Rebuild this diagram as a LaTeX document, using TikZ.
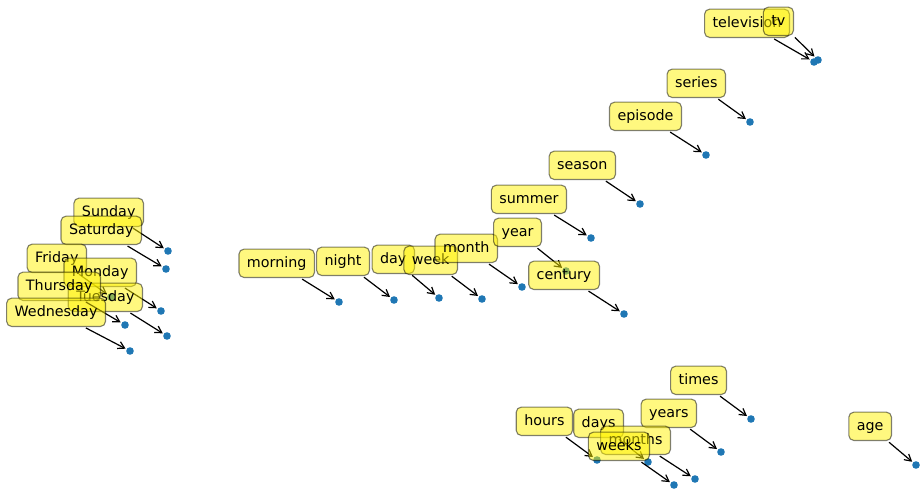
\documentclass[tikz,border=0pt]{standalone}
\usepackage{fontspec}
\setmainfont{DejaVu Sans}
\usetikzlibrary{arrows.meta}
\definecolor{mplblue}{HTML}{1F77B4}
\begin{document}
\begin{tikzpicture}[x=1pt,y=-1pt,
  dotpt/.style={circle,fill=mplblue,inner sep=0pt,minimum size=7.6pt},
  wbox/.style={draw=black,fill=yellow,fill opacity=0.5,draw opacity=0.5,text opacity=1,
    rounded corners=5pt,line width=1.1pt,font=\fontsize{14.3}{16}\selectfont,
    text height=10.9pt,text depth=3.4pt,inner xsep=8pt,inner ysep=7pt,anchor=south east},
  warrow/.style={-{Straight Barb[length=6.5pt,width=7.5pt]},line width=1.2pt,shorten <=2pt,shorten >=1pt}]
\useasboundingbox (0,0) rectangle (924,490);
\foreach \n/\x/\y in {Sunday/168/251,Saturday/166/269,Friday/111/297,Monday/161/311,
  Tuesday/167/336,Thursday/125/325,Wednesday/130/351,morning/339/302,night/394/300,
  day/439/298,week/482/299,month/522/287,year/566/271,century/624/314,summer/591/238,
  season/640/204,episode/706/155,series/750/122,television/814/62,tv/818/60,
  times/751/419,years/721/452,hours/597/460,days/648/462,months/695/479,weeks/674/485,age/916/465}
  \node[dotpt] (d\n) at (\x,\y) {};
\foreach \n/\x/\y in {Sunday/168/251,Saturday/166/269,Friday/111/297,Monday/161/311,
  Tuesday/167/336,Thursday/125/325,Wednesday/130/351,morning/339/302,night/394/300,
  day/439/298,week/482/299,month/522/287,year/566/271,century/624/314,summer/591/238,
  season/640/204,episode/706/155,series/750/122,television/814/62,tv/818/60,
  times/751/419,years/721/452,hours/597/460,days/648/462,months/695/479,weeks/674/485,age/916/465}
  {\node[wbox] (w\n) at (\x-24,\y-24) {\n};
   \draw[warrow] (w\n) -- (d\n);}
\end{tikzpicture}
\end{document}
